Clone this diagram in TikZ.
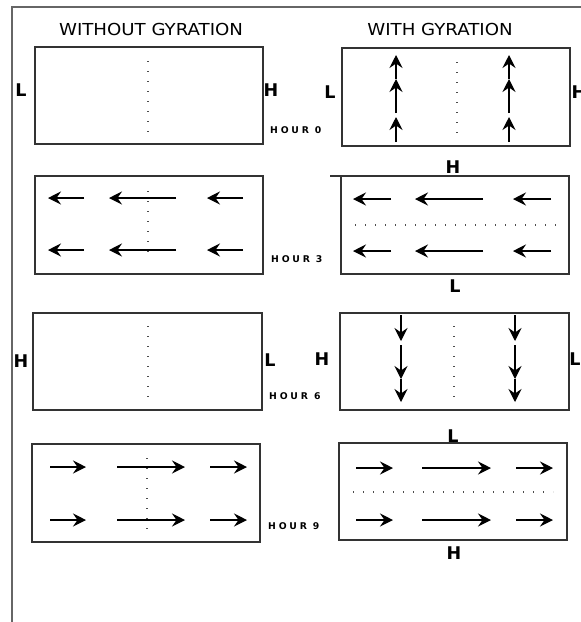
\documentclass[tikz,border=0pt]{standalone}
\usepackage{fontspec}
\usetikzlibrary{arrows.meta}
\newfontfamily\titlefont[FakeStretch=1.1]{DejaVu Sans}
\newfontfamily\lblfont{DejaVu Sans}
\newfontfamily\hourfont[LetterSpace=30]{DejaVu Sans}
\tikzset{
  frame/.style={draw=black!60, line width=1.5pt},
  box/.style={draw=black!80, line width=1.2pt},
  dots/.style={draw=black!70, line width=1.3pt, dash pattern=on 1.2pt off 8.8pt},
  flow/.style={line width=1.3pt, -{Stealth[length=13pt,width=13pt,inset=4.5pt]}},
  lbl/.style={font=\lblfont\bfseries\fontsize{17.5}{17.5}\selectfont, inner sep=0pt},
  hour/.style={font=\hourfont\bfseries\fontsize{9.3}{9.3}\selectfont, inner sep=0pt, anchor=west},
  ttl/.style={font=\titlefont\fontsize{16.5}{17}\selectfont, inner sep=0pt}
}
\begin{document}
\begin{tikzpicture}[x=1pt,y=-1pt]
\useasboundingbox (0,0) rectangle (581,622);
% outer frame
\draw[frame] (12,622) -- (12,7) -- (581,7);
% titles
\node[ttl] (t1) at (151,29) {WITHOUT GYRATION};
\node[ttl] (t2) at (440,29) {WITH GYRATION};
% boxes
\draw[box] (35,47) rectangle (263,144);
\draw[box] (342,48) rectangle (570,146);
\draw[box] (35,176) rectangle (263,274);
\draw[box] (341,176) rectangle (569,274);
\draw[box] (330,176) -- (341,176);
\draw[box] (33,313) rectangle (262,410);
\draw[box] (340,313) rectangle (569,410);
\draw[box] (32,444) rectangle (260,542);
\draw[box] (339,443) rectangle (567,540);
% dotted lines
\draw[dots] (148,61) -- (148,132);
\draw[dots] (457,62) -- (457,133);
\draw[dots] (148,191) -- (148,260);
\draw[dots] (355,225) -- (556,225);
\draw[dots] (148,326) -- (148,397);
\draw[dots] (454,326) -- (454,398);
\draw[dots] (147,458) -- (147,529);
\draw[dots] (353,492) -- (553,492);
% hour 0 (with gyration): upward arrows
\foreach \x in {396,509}{
  \draw[flow] (\x,142) -- (\x,117);
  \draw[flow] (\x,113) -- (\x,79);
  \draw[flow] (\x,79) -- (\x,55);
}
% hour 3: leftward arrows
\foreach \y in {198,250}{
  \draw[flow] (84,\y) -- (48,\y);
  \draw[flow] (176,\y) -- (109,\y);
  \draw[flow] (243,\y) -- (207,\y);
}
\foreach \y in {199,251}{
  \draw[flow] (391,\y) -- (353,\y);
  \draw[flow] (483,\y) -- (415,\y);
  \draw[flow] (551,\y) -- (513,\y);
}
% hour 6 (with gyration): downward arrows
\foreach \x in {401,515}{
  \draw[flow] (\x,315) -- (\x,341);
  \draw[flow] (\x,345) -- (\x,379);
  \draw[flow] (\x,379) -- (\x,402);
}
% hour 9: rightward arrows
\foreach \y in {467,520}{
  \draw[flow] (50,\y) -- (86,\y);
  \draw[flow] (117,\y) -- (185,\y);
  \draw[flow] (210,\y) -- (247,\y);
}
\foreach \y in {468,520}{
  \draw[flow] (356,\y) -- (393,\y);
  \draw[flow] (422,\y) -- (491,\y);
  \draw[flow] (516,\y) -- (553,\y);
}
% pressure labels
\node[lbl] (l0a) at (21,90) {L};
\node[lbl] (h0a) at (271,90) {H};
\node[lbl] (l0b) at (330,92) {L};
\node[lbl] (h0b) at (579,92) {H};
\node[lbl] (h3b) at (453,167) {H};
\node[lbl] (l3b) at (455,286) {L};
\node[lbl] (h6a) at (21,361) {H};
\node[lbl] (l6a) at (270,360) {L};
\node[lbl] (h6b) at (322,359) {H};
\node[lbl] (l6b) at (575,359) {L};
\node[lbl] (l9b) at (453,436) {L};
\node[lbl] (h9b) at (454,553) {H};
% hour labels
\node[hour] (hr0) at (270,130) {HOUR 0};
\node[hour] (hr3) at (271,259) {HOUR 3};
\node[hour] (hr6) at (269,396) {HOUR 6};
\node[hour] (hr9) at (268,526) {HOUR 9};
\end{tikzpicture}
\end{document}
